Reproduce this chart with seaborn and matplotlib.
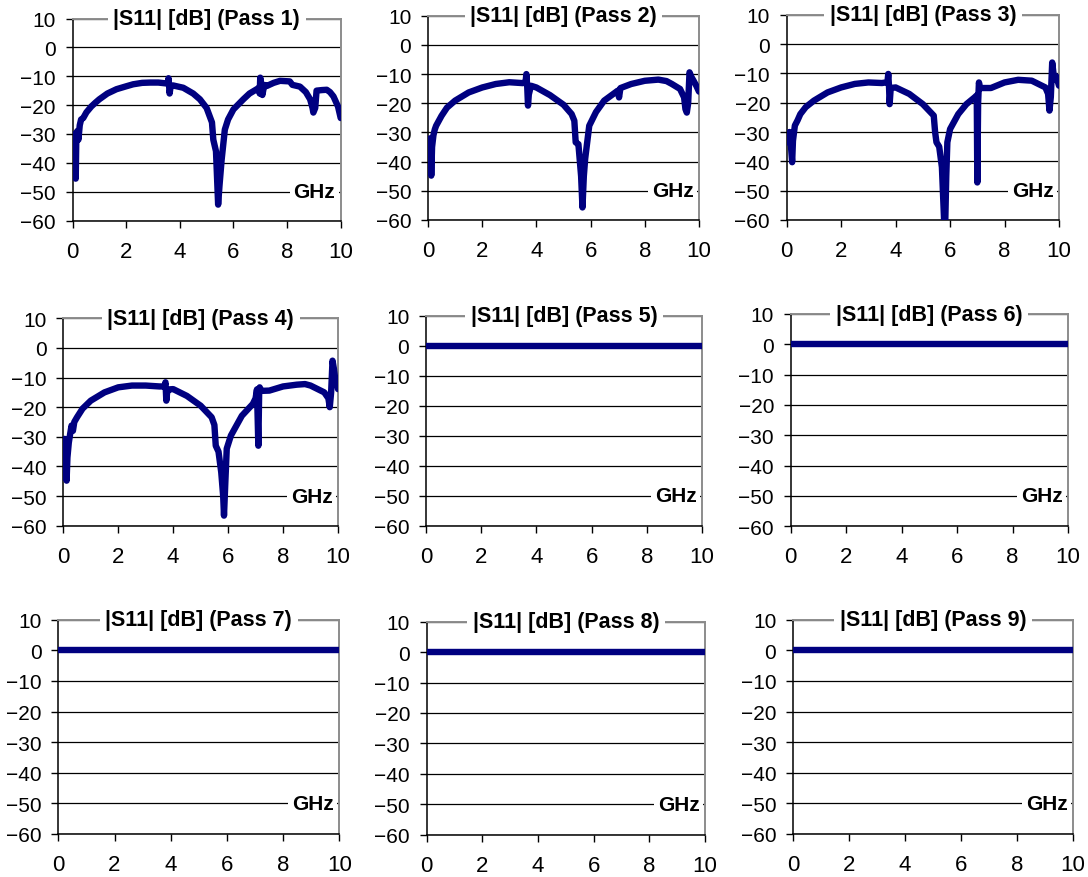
import pandas as pd
import matplotlib
matplotlib.use("Agg")
import matplotlib.pyplot as plt
import seaborn as sns

# |S11| readings per pass (frequency in GHz, magnitude in dB)
pass1_ghz = [0.08, 0.10, 0.12, 0.14, 0.18, 0.22, 0.27, 0.32, 0.40, 0.52, 0.70, 0.85, 1.0, 1.15, 1.3, 1.64,
             2.0, 2.26, 2.6, 2.9, 3.2, 3.50, 3.56, 3.58, 3.60, 3.62, 3.66, 3.75, 4.13, 4.5,
             4.75, 5.0, 5.12, 5.20, 5.25, 5.35, 5.43, 5.48, 5.56, 5.68, 5.8, 6.0, 6.37, 6.6,
             6.87, 6.95, 6.98, 7.00, 7.03, 7.08, 7.15, 7.24, 7.5, 7.74, 8.1, 8.2, 8.48, 8.7,
             8.86, 8.95, 8.98, 9.05, 9.1, 9.3, 9.48, 9.6, 9.73, 9.9, 10.0]
pass1_db = [-30, -33, -45.5, -33, -29, -32, -27, -25, -24.5, -22.5, -20.5, -19.2, -18, -17, -16, -14.5,
            -13.5, -12.8, -12.3, -12.2, -12.2, -12.5, -12.3, -10.7, -13, -16, -13.5, -13.2, -14, -16,
            -18, -21, -24, -26, -32, -36, -54.5, -48, -39, -28.5, -25, -21.5, -18, -16,
            -14.5, -14, -16, -10.5, -14, -16.5, -13, -13.4, -12.3, -11.6, -11.8, -13, -13.6, -15.5,
            -18, -21, -22.6, -21, -15, -14.8, -14.7, -15.5, -17, -20.5, -24.5]

pass2_ghz = [0.08, 0.10, 0.12, 0.15, 0.2, 0.25, 0.3, 0.4, 0.5, 0.7, 1.0, 1.5, 2.0, 2.5, 3.0,
             3.5, 3.60, 3.63, 3.66, 3.69, 3.72, 3.8, 4.0, 4.5, 5.0, 5.3, 5.40, 5.45, 5.55,
             5.65, 5.70, 5.75, 5.8, 5.95, 6.2, 6.5, 7.0, 7.05, 7.1, 7.5, 8.0, 8.5, 8.8, 9.0,
             9.3, 9.45, 9.5, 9.55, 9.6, 9.65, 9.72, 9.8, 9.9, 10.0]
pass2_db = [-32, -36, -44.8, -35, -31, -29, -27.7, -26, -24.3, -21.5, -19.1, -16.3, -14.6, -13.4, -12.8,
            -13.1, -12.8, -10, -14, -20.8, -17, -14, -14.6, -17.2, -20.5, -23.7, -26, -33.4, -34,
            -45, -55.7, -45, -39, -27.7, -23, -19.1, -15.7, -18, -14.8, -13.4, -12.3, -11.9, -12.4, -13.4,
            -15.1, -18, -22, -23.2, -20, -9.4, -11, -12.3, -14, -16]

pass3_ghz = [0.05, 0.10, 0.15, 0.20, 0.23, 0.3, 0.4, 0.5, 0.7, 1.0, 1.5, 2.0, 2.5, 3.0, 3.5,
             3.70, 3.73, 3.76, 3.78, 3.82, 4.0, 4.5, 5.0, 5.4, 5.45, 5.5, 5.6, 5.7, 5.78,
             5.82, 5.86, 5.9, 6.0, 6.3, 6.6, 6.9, 6.98, 7.0, 7.03, 7.06, 7.1, 7.5, 8.0, 8.5,
             9.0, 9.5, 9.6, 9.65, 9.7, 9.75, 9.8, 9.85, 9.9, 10.0]
pass3_db = [-33.5, -30, -34, -40.3, -33, -27.8, -26, -23.9, -21.5, -19.3, -16.5, -14.8, -13.6, -13.1, -13.3,
            -13, -10.2, -15, -20.5, -15, -14.8, -17, -20.5, -24.4, -30, -33.5, -35, -42, -60,
            -62, -45, -33.5, -29, -23.9, -20.5, -18.2, -17.5, -47.2, -20, -13.1, -15, -15, -13.1, -12.2,
            -12.5, -14.8, -17, -22.7, -18, -6.3, -10.2, -12, -11, -14.2]

pass4_ghz = [0.05, 0.08, 0.12, 0.15, 0.2, 0.25, 0.3, 0.35, 0.4, 0.5, 0.7, 1.0, 1.5, 2.0, 2.5,
             3.0, 3.5, 3.68, 3.72, 3.75, 3.78, 3.85, 4.0, 4.5, 5.0, 5.4, 5.5, 5.55, 5.65,
             5.75, 5.82, 5.85, 5.9, 5.95, 6.1, 6.5, 6.9, 7.0, 7.05, 7.1, 7.13, 7.15, 7.2,
             7.5, 8.0, 8.5, 8.8, 9.0, 9.5, 9.65, 9.7, 9.75, 9.8, 9.85, 9.9, 9.95, 10.0]
pass4_db = [-30.7, -33, -44.8, -37, -32, -29, -26.2, -28, -25, -23.4, -20.5, -17.8, -15, -13.3, -12.7,
            -12.7, -13, -13, -11.6, -17.8, -15, -14, -13.9, -16.2, -19.5, -23.4, -26, -33, -35,
            -42, -50, -56.6, -45, -34, -29.6, -22.9, -18.9, -17, -14, -33, -15, -13.3, -14.5,
            -14.4, -13, -12.4, -12.2, -12.7, -15, -17, -20, -15, -4.3, -7, -10.5, -11, -13.9]

# passes 5 to 9 sit flat at 0 dB over the whole band
flat_ghz = [0, 10]
pass5_db = [0, 0]
pass6_db = [0, 0]
pass7_db = [0, 0]
pass8_db = [0, 0]
pass9_db = [0, 0]

passes = [(pass1_ghz, pass1_db), (pass2_ghz, pass2_db), (pass3_ghz, pass3_db),
          (pass4_ghz, pass4_db), (flat_ghz, pass5_db), (flat_ghz, pass6_db),
          (flat_ghz, pass7_db), (flat_ghz, pass8_db), (flat_ghz, pass9_db)]

x_ticks = [0, 2, 4, 6, 8, 10]
y_ticks = [-60, -50, -40, -30, -20, -10, 0, 10]

sns.set_theme(style="white")
plt.rcParams["font.family"] = ["Liberation Sans", "DejaVu Sans"]
plt.rcParams["text.color"] = "black"
plt.rcParams["xtick.color"] = "black"
plt.rcParams["ytick.color"] = "black"

W, H = 1088, 878
fig = plt.figure(figsize=(W / 100, H / 100), dpi=100)

# plot area of each panel in pixels: left, right, top (10 dB), bottom (-60 dB)
boxes = [(72.5, 340.7, 19.5, 221.5), (428, 699, 16.7, 221), (786.7, 1059, 15.7, 221),
         (63.3, 338, 319.3, 526.7), (426, 702, 316.7, 526.7), (790.7, 1068, 315, 527.3),
         (58.3, 339.3, 620.7, 835), (426.7, 705, 622.7, 835.7), (793, 1073, 620.7, 835)]

for i, ((ghz, db), (l, r, t, b)) in enumerate(zip(passes, boxes)):
    ax = fig.add_axes([l / W, 1 - b / H, (r - l) / W, (b - t) / H])
    df = pd.DataFrame({"GHz": ghz, "dB": db})
    sns.lineplot(data=df, x="GHz", y="dB", ax=ax, color="#000080", lw=4.6,
                 estimator=None, sort=False, zorder=3)

    ax.set_xlim(0, 10)
    ax.set_ylim(-60, 10)
    ax.set_xticks(x_ticks)
    ax.set_yticks(y_ticks)
    ax.set_xlabel("")
    ax.set_ylabel("")
    ax.grid(axis="y", color="black", lw=0.9)
    ax.grid(axis="x", visible=False)

    for side in ["left", "bottom"]:
        ax.spines[side].set_color("black")
        ax.spines[side].set_linewidth(1.1)
    for side in ["top", "right"]:
        ax.spines[side].set_color("#8c8c8c")
        ax.spines[side].set_linewidth(1.4)

    ax.tick_params(axis="both", direction="out", length=5, width=1, color="black",
                   labelcolor="black", left=True, bottom=True)
    ax.tick_params(axis="y", labelsize=15, pad=7)
    ax.tick_params(axis="x", labelsize=16, pad=9.5)

    ax.text(5, 10, f"|S11| [dB] (Pass {i + 1})", ha="center", va="center",
            fontsize=15.5, fontweight="bold", color="black", zorder=6, clip_on=False,
            bbox=dict(facecolor="white", edgecolor="none", pad=4))
    ax.text(9.8, -50, "GHz", ha="right", va="center", fontsize=15,
            fontweight="bold", color="black", zorder=6,
            bbox=dict(facecolor="white", edgecolor="none", pad=2.5))

fig.savefig("out.png", dpi=100)
